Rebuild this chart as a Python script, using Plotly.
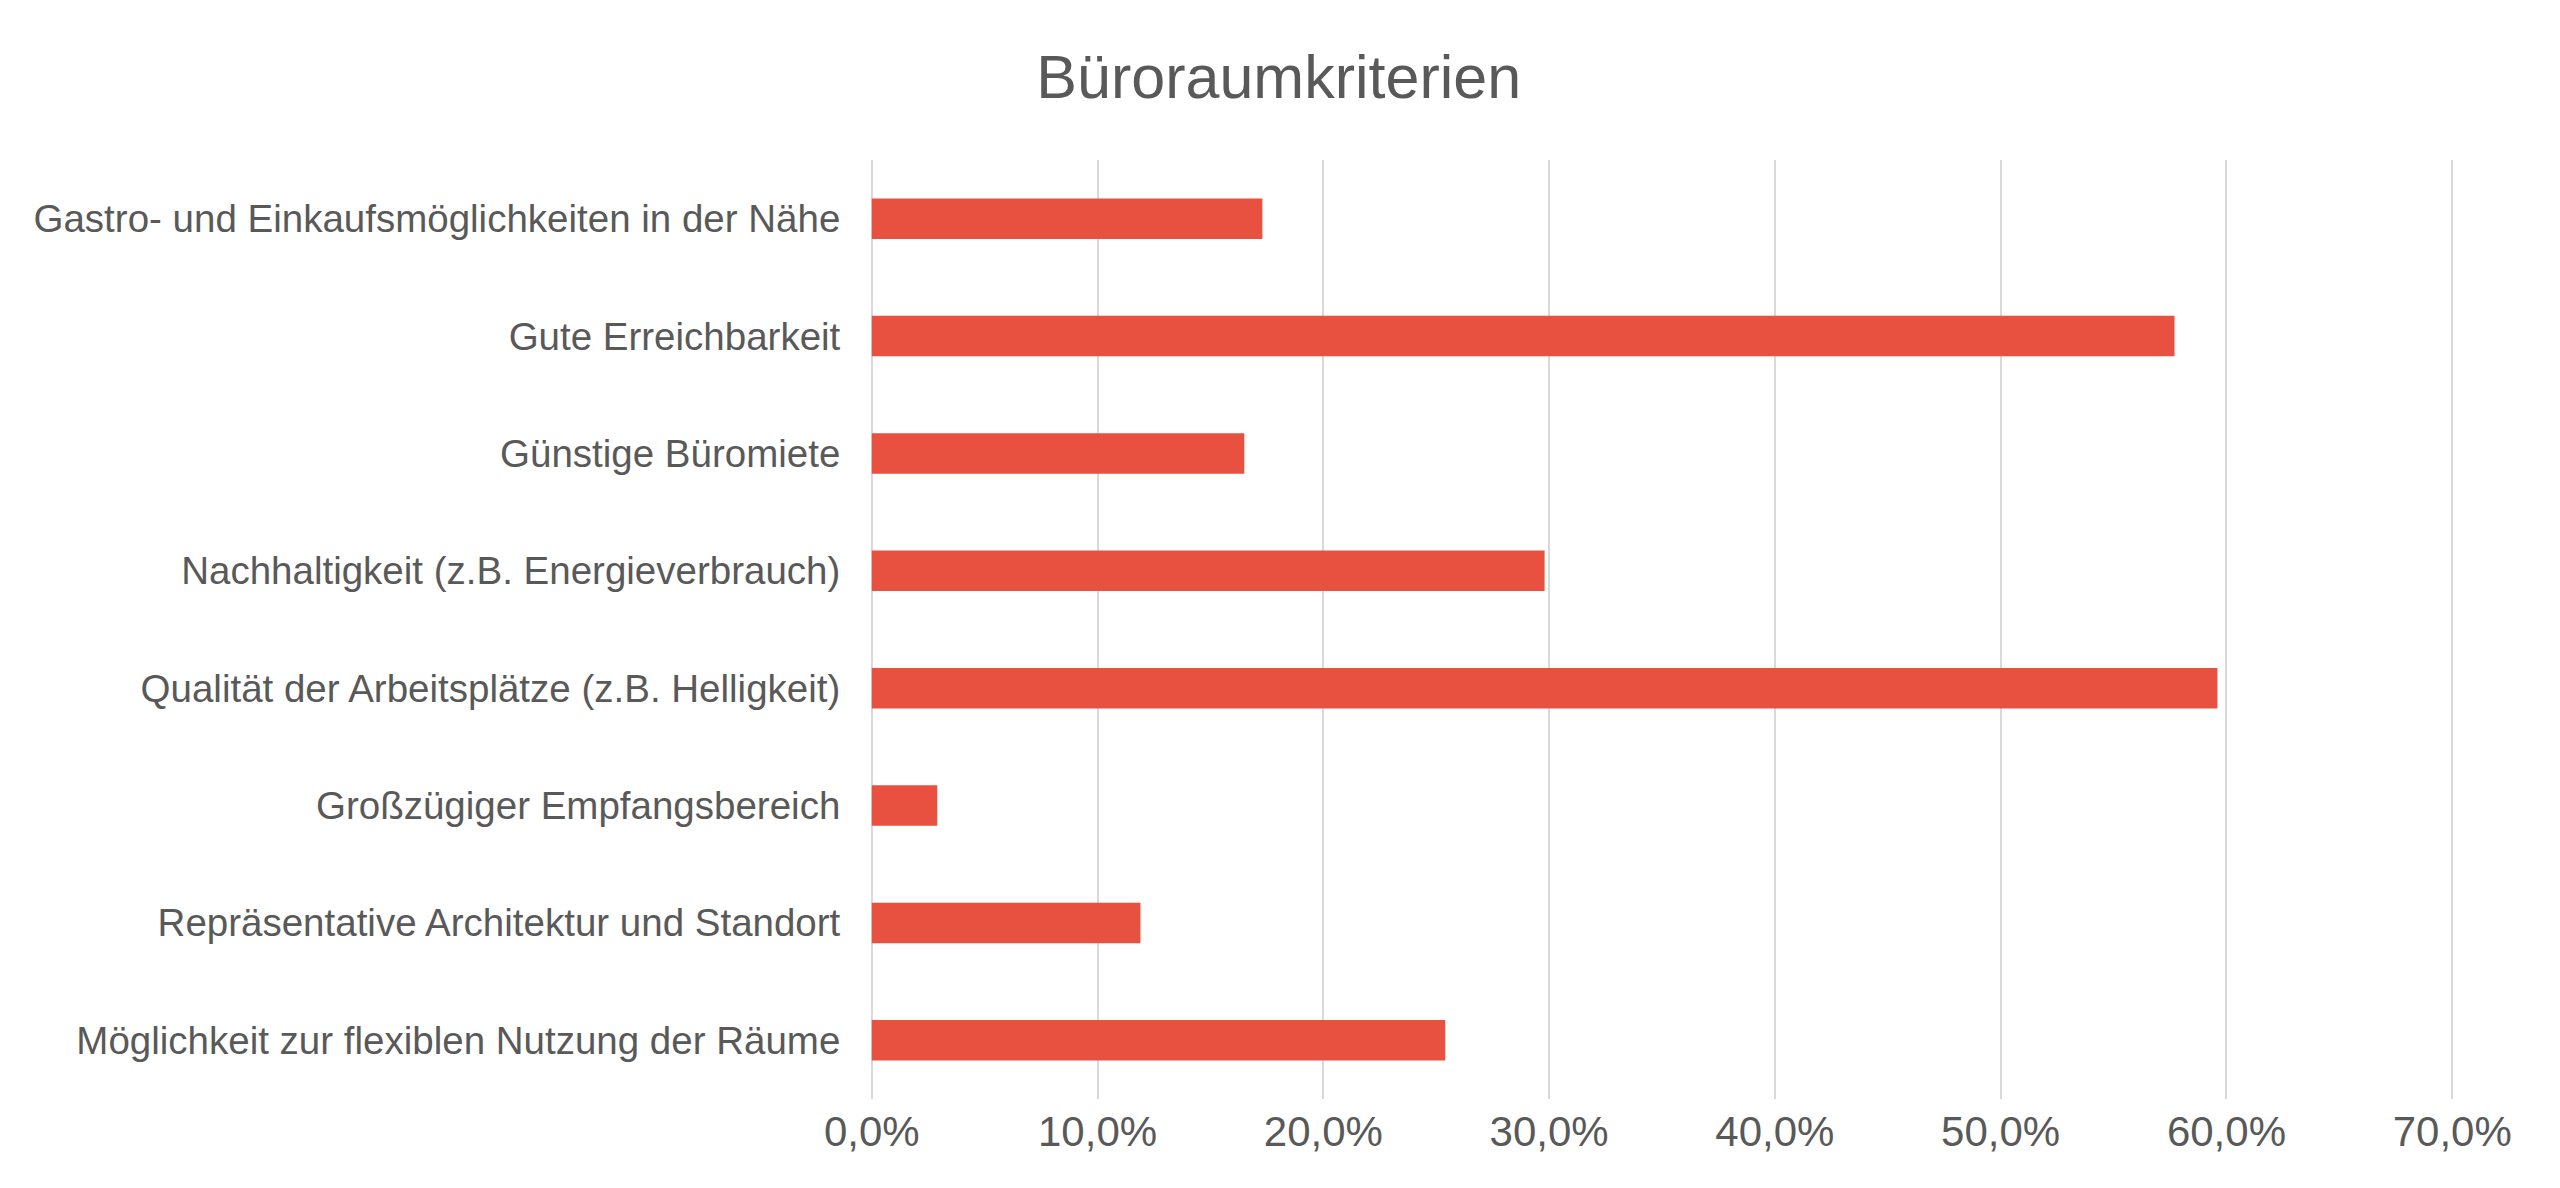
import plotly.graph_objects as go

categories = [
    "Gastro- und Einkaufsmöglichkeiten in der Nähe",
    "Gute Erreichbarkeit",
    "Günstige Büromiete",
    "Nachhaltigkeit (z.B. Energieverbrauch)",
    "Qualität der Arbeitsplätze (z.B. Helligkeit)",
    "Großzügiger Empfangsbereich",
    "Repräsentative Architektur und Standort",
    "Möglichkeit zur flexiblen Nutzung der Räume",
]
values = [0.173, 0.577, 0.165, 0.298, 0.596, 0.029, 0.119, 0.254]
x_ticks = [0.0, 0.1, 0.2, 0.3, 0.4, 0.5, 0.6, 0.7]

TEXT = "#595959"
FONT = "Liberation Sans, Arial, sans-serif"

fig = go.Figure(
    go.Bar(
        x=values,
        y=categories,
        orientation="h",
        marker=dict(color="#E8503F", line=dict(width=0)),
        hoverinfo="x+y",
    )
)

fig.update_layout(
    width=2560,
    height=1188,
    paper_bgcolor="white",
    plot_bgcolor="white",
    separators=",.",
    bargap=0.655,
    margin=dict(l=865, r=101, t=160, b=89),
    showlegend=False,
    title=dict(
        text="Büroraumkriterien",
        x=0.4995,
        xanchor="center",
        y=1 - 77 / 1188,
        yanchor="middle",
        font=dict(family=FONT, size=61, color=TEXT),
    ),
    font=dict(family=FONT, color=TEXT),
)

fig.update_xaxes(
    range=[-0.003, 0.703],
    tickvals=x_ticks,
    tickformat=".1%",
    showgrid=True,
    gridcolor="#D9D9D9",
    gridwidth=2,
    zeroline=False,
    showline=False,
    ticks="",
    ticklabelstandoff=4,
    automargin=False,
    tickfont=dict(family=FONT, size=42, color=TEXT),
)

fig.update_yaxes(
    autorange="reversed",
    showgrid=False,
    zeroline=False,
    showline=False,
    ticks="outside",
    ticklen=16,
    tickcolor="rgba(0,0,0,0)",
    automargin=False,
    tickfont=dict(family=FONT, size=38.5, color=TEXT),
)

fig.write_html(
    "out.html",
    config={"displayModeBar": False},
    post_script="document.body.style.margin='0';document.body.style.padding='0';",
)
